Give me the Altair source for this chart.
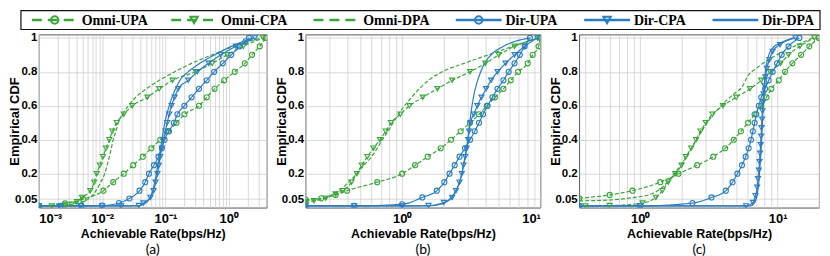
import altair as alt
import pandas as pd

SERIES = ["Omni-UPA", "Omni-CPA", "Omni-DPA", "Dir-UPA", "Dir-CPA", "Dir-DPA"]
GREEN = "#3aa63a"
BLUE = "#2a7dc1"
COLORS = [GREEN, GREEN, GREEN, BLUE, BLUE, BLUE]
DASHES = [[4, 2], [4, 2], [4, 2], [1, 0], [1, 0], [1, 0]]
WIDTHS = [1.2, 1.2, 1.2, 1.6, 1.6, 1.6]
MARK_SERIES = ["Omni-UPA", "Omni-CPA", "Dir-UPA", "Dir-CPA"]
MARK_SHAPES = ["circle", "triangle-down", "circle", "triangle-down"]
Y_TICKS = [0.05, 0.2, 0.4, 0.6, 0.8, 1]
SANS = "Liberation Sans"

# ---------------- panel (a) ----------------
a_omni_upa_x = [0.001, 0.0026, 0.005, 0.0105, 0.015, 0.022, 0.031, 0.044, 0.06, 0.083, 0.11, 0.15, 0.2, 0.34, 0.45, 0.6, 0.85, 1.25, 1.8, 2.35, 3.1, 3.9]
a_omni_upa_y = [0.01, 0.025, 0.05, 0.10, 0.15, 0.20, 0.25, 0.30, 0.35, 0.40, 0.45, 0.50, 0.55, 0.60, 0.65, 0.70, 0.75, 0.80, 0.85, 0.90, 0.95, 1.0]
a_omni_cpa_x = [0.001, 0.0016, 0.0026, 0.0033, 0.004, 0.0048, 0.0065, 0.0075, 0.0082, 0.0092, 0.0103, 0.0115, 0.013, 0.0145, 0.017, 0.022, 0.03, 0.052, 0.08, 0.13, 0.3, 0.55, 0.95, 1.7, 3.5]
a_omni_cpa_y = [0.01, 0.01, 0.015, 0.02, 0.035, 0.06, 0.10, 0.15, 0.20, 0.25, 0.30, 0.35, 0.40, 0.45, 0.50, 0.55, 0.60, 0.65, 0.70, 0.75, 0.80, 0.85, 0.90, 0.95, 1.0]
a_omni_dpa_x = [0.001, 0.002, 0.004, 0.006, 0.008, 0.0095, 0.011, 0.012, 0.013, 0.014, 0.015, 0.0165, 0.018, 0.021, 0.026, 0.034, 0.05, 0.08, 0.14, 0.26, 0.55, 1.2, 3.3]
a_omni_dpa_y = [0.01, 0.012, 0.025, 0.05, 0.10, 0.15, 0.20, 0.25, 0.30, 0.35, 0.40, 0.45, 0.50, 0.55, 0.60, 0.65, 0.70, 0.75, 0.80, 0.85, 0.90, 0.95, 1.0]
a_dir_upa_x = [0.001, 0.0022, 0.0047, 0.01, 0.0185, 0.027, 0.039, 0.048, 0.055, 0.066, 0.078, 0.088, 0.097, 0.114, 0.136, 0.155, 0.2, 0.26, 0.34, 0.45, 0.59, 0.81, 1.1, 1.5, 1.85, 2.1]
a_dir_upa_y = [0.01, 0.01, 0.01, 0.012, 0.027, 0.054, 0.10, 0.15, 0.20, 0.25, 0.30, 0.35, 0.40, 0.45, 0.50, 0.55, 0.60, 0.65, 0.70, 0.75, 0.80, 0.85, 0.90, 0.95, 0.98, 1.0]
a_dir_cpa_x = [0.001, 0.0021, 0.0046, 0.01, 0.02, 0.038, 0.045, 0.058, 0.065, 0.07, 0.075, 0.079, 0.083, 0.088, 0.093, 0.1, 0.107, 0.115, 0.125, 0.14, 0.16, 0.23, 0.32, 0.48, 0.75, 1.3, 2.6]
a_dir_cpa_y = [0.01, 0.01, 0.01, 0.01, 0.01, 0.012, 0.027, 0.06, 0.10, 0.15, 0.20, 0.25, 0.30, 0.35, 0.40, 0.45, 0.50, 0.55, 0.60, 0.65, 0.70, 0.75, 0.80, 0.85, 0.90, 0.95, 1.0]
a_dir_dpa_x = [0.001, 0.035, 0.045, 0.055, 0.063, 0.072, 0.08, 0.088, 0.098, 0.115, 0.145, 0.17, 0.23, 0.35, 0.6, 1.1, 2.4]
a_dir_dpa_y = [0.01, 0.01, 0.02, 0.05, 0.10, 0.20, 0.30, 0.40, 0.50, 0.60, 0.70, 0.75, 0.80, 0.85, 0.90, 0.95, 1.0]

# ---------------- panel (b) ----------------
b_omni_upa_x = [0.2, 0.26, 0.33, 0.4, 0.66, 1.0, 1.24, 1.53, 1.9, 2.26, 2.65, 3.1, 3.6, 4.1, 4.7, 5.4, 6.1, 6.9, 8.1, 8.8, 9.7, 10.0]
b_omni_upa_y = [0.048, 0.055, 0.075, 0.10, 0.15, 0.20, 0.25, 0.30, 0.35, 0.40, 0.45, 0.50, 0.55, 0.60, 0.65, 0.70, 0.75, 0.80, 0.85, 0.90, 0.95, 1.0]
b_omni_cpa_x = [0.2, 0.23, 0.28, 0.33, 0.37, 0.43, 0.47, 0.51, 0.56, 0.62, 0.69, 0.76, 0.83, 0.97, 1.13, 1.41, 1.8, 2.3, 3.1, 4.0, 5.0, 6.5, 9.8]
b_omni_cpa_y = [0.027, 0.04, 0.056, 0.08, 0.10, 0.15, 0.20, 0.25, 0.30, 0.35, 0.40, 0.45, 0.50, 0.55, 0.60, 0.65, 0.70, 0.75, 0.80, 0.85, 0.90, 0.95, 1.0]
b_omni_dpa_x = [0.2, 0.25, 0.3, 0.35, 0.41, 0.47, 0.53, 0.6, 0.66, 0.72, 0.79, 0.86, 0.94, 1.04, 1.17, 1.33, 1.55, 1.95, 2.8, 4.2, 6.3, 9.6]
b_omni_dpa_y = [0.04, 0.05, 0.07, 0.10, 0.15, 0.20, 0.25, 0.30, 0.35, 0.40, 0.45, 0.50, 0.55, 0.60, 0.65, 0.70, 0.75, 0.80, 0.85, 0.90, 0.95, 1.0]
b_dir_upa_x = [0.2, 0.45, 1.0, 1.4, 1.78, 2.02, 2.2, 2.4, 2.6, 2.85, 3.1, 3.35, 3.6, 3.85, 4.15, 4.5, 4.9, 5.4, 5.9, 6.5, 7.1, 7.7, 8.4]
b_dir_upa_y = [0.01, 0.01, 0.02, 0.06, 0.10, 0.15, 0.20, 0.25, 0.30, 0.35, 0.40, 0.45, 0.50, 0.55, 0.60, 0.65, 0.70, 0.75, 0.80, 0.85, 0.90, 0.95, 1.0]
b_dir_cpa_x = [0.2, 0.45, 1.0, 1.55, 2.0, 2.3, 2.45, 2.6, 2.7, 2.78, 2.86, 2.93, 3.0, 3.05, 3.12, 3.3, 3.5, 3.75, 4.05, 4.4, 4.9, 5.6, 6.5, 7.7, 9.5]
b_dir_cpa_y = [0.01, 0.01, 0.01, 0.012, 0.03, 0.06, 0.10, 0.15, 0.20, 0.25, 0.30, 0.35, 0.40, 0.45, 0.50, 0.55, 0.60, 0.65, 0.70, 0.75, 0.80, 0.85, 0.90, 0.95, 1.0]
b_dir_dpa_x = [0.2, 1.5, 1.9, 2.2, 2.45, 2.6, 2.7, 2.78, 2.85, 2.92, 2.98, 3.03, 3.08, 3.14, 3.2, 3.28, 3.38, 3.52, 3.7, 3.95, 4.4, 5.4, 8.5]
b_dir_dpa_y = [0.01, 0.01, 0.02, 0.05, 0.10, 0.15, 0.20, 0.25, 0.30, 0.35, 0.40, 0.45, 0.50, 0.55, 0.60, 0.65, 0.70, 0.75, 0.80, 0.85, 0.90, 0.95, 1.0]

# ---------------- panel (c) ----------------
c_omni_upa_x = [0.36, 0.6, 0.88, 1.4, 1.9, 2.6, 3.4, 4.15, 4.8, 5.4, 6.1, 6.8, 7.6, 8.3, 9.0, 10.2, 11.3, 12.8, 14.8, 17.0, 20.0]
c_omni_upa_y = [0.055, 0.075, 0.10, 0.15, 0.20, 0.25, 0.30, 0.35, 0.40, 0.45, 0.50, 0.55, 0.60, 0.65, 0.70, 0.75, 0.80, 0.85, 0.90, 0.95, 1.0]
c_omni_cpa_x = [0.4, 0.6, 1.04, 1.3, 1.45, 1.6, 1.8, 2.0, 2.15, 2.35, 2.55, 2.75, 3.0, 3.35, 4.0, 5.0, 6.3, 7.6, 8.8, 10.5, 12.0, 14.5, 18.5]
c_omni_cpa_y = [0.01, 0.012, 0.027, 0.06, 0.10, 0.15, 0.20, 0.25, 0.30, 0.35, 0.40, 0.45, 0.50, 0.55, 0.60, 0.65, 0.70, 0.75, 0.80, 0.85, 0.90, 0.95, 1.0]
c_omni_dpa_x = [0.36, 0.6, 0.9, 1.2, 1.45, 1.65, 1.85, 2.05, 2.25, 2.45, 2.65, 2.9, 3.2, 3.6, 4.1, 4.8, 5.6, 6.0, 7.0, 8.5, 11.0, 14.0, 18.0]
c_omni_dpa_y = [0.04, 0.045, 0.06, 0.08, 0.12, 0.17, 0.22, 0.27, 0.32, 0.37, 0.42, 0.47, 0.52, 0.57, 0.62, 0.67, 0.72, 0.77, 0.82, 0.87, 0.92, 0.96, 1.0]
c_dir_upa_x = [0.36, 1.0, 2.4, 3.3, 4.2, 4.7, 5.1, 5.5, 5.85, 6.15, 6.4, 6.6, 6.8, 7.0, 7.3, 7.6, 8.1, 8.6, 9.2, 9.9, 10.7, 12.0, 14.4]
c_dir_upa_y = [0.01, 0.01, 0.027, 0.06, 0.10, 0.15, 0.20, 0.25, 0.30, 0.35, 0.40, 0.45, 0.50, 0.55, 0.60, 0.65, 0.70, 0.75, 0.80, 0.85, 0.90, 0.95, 1.0]
c_dir_cpa_x = [0.36, 1.0, 5.9, 6.6, 6.9, 7.1, 7.2, 7.3, 7.38, 7.45, 7.52, 7.58, 7.63, 7.7, 7.75, 7.82, 7.9, 8.0, 8.15, 8.35, 8.7, 9.2, 10.4, 13.5]
c_dir_cpa_y = [0.01, 0.01, 0.01, 0.03, 0.07, 0.12, 0.17, 0.22, 0.27, 0.32, 0.37, 0.42, 0.47, 0.52, 0.57, 0.62, 0.67, 0.72, 0.77, 0.82, 0.87, 0.92, 0.96, 1.0]
c_dir_dpa_x = [0.36, 6.3, 6.8, 7.1, 7.3, 7.45, 7.6, 7.7, 7.8, 7.9, 8.0, 8.15, 8.5, 9.2, 10.5, 13.0]
c_dir_dpa_y = [0.01, 0.01, 0.03, 0.08, 0.15, 0.25, 0.35, 0.45, 0.55, 0.65, 0.72, 0.80, 0.88, 0.94, 0.97, 1.0]

PANELS = [
    {"label": "(a)", "domain": [0.001, 4], "decades": [-3, -2, -1, 0], "width": 229,
     "series": [(a_omni_upa_x, a_omni_upa_y), (a_omni_cpa_x, a_omni_cpa_y), (a_omni_dpa_x, a_omni_dpa_y),
                (a_dir_upa_x, a_dir_upa_y), (a_dir_cpa_x, a_dir_cpa_y), (a_dir_dpa_x, a_dir_dpa_y)]},
    {"label": "(b)", "domain": [0.2, 10], "decades": [-1, 0, 1], "width": 236,
     "series": [(b_omni_upa_x, b_omni_upa_y), (b_omni_cpa_x, b_omni_cpa_y), (b_omni_dpa_x, b_omni_dpa_y),
                (b_dir_upa_x, b_dir_upa_y), (b_dir_cpa_x, b_dir_cpa_y), (b_dir_dpa_x, b_dir_dpa_y)]},
    {"label": "(c)", "domain": [0.36, 20], "decades": [-1, 0, 1], "width": 241,
     "series": [(c_omni_upa_x, c_omni_upa_y), (c_omni_cpa_x, c_omni_cpa_y), (c_omni_dpa_x, c_omni_dpa_y),
                (c_dir_upa_x, c_dir_upa_y), (c_dir_cpa_x, c_dir_cpa_y), (c_dir_dpa_x, c_dir_dpa_y)]},
]

SUP = {"-3": "⁻³", "-2": "⁻²", "-1": "⁻¹", "0": "⁰", "1": "¹"}
PLOT_H = 174

color_enc = alt.Color("series:N", scale=alt.Scale(domain=SERIES, range=COLORS), legend=None)
dash_enc = alt.StrokeDash("series:N", scale=alt.Scale(domain=SERIES, range=DASHES), legend=None)
width_enc = alt.StrokeWidth("series:N", scale=alt.Scale(domain=SERIES, range=WIDTHS), legend=None)
shape_enc = alt.Shape("series:N", scale=alt.Scale(domain=MARK_SERIES, range=MARK_SHAPES), legend=None)


# ---------------- legend layout (drawn above panel (a), spanning all panels) ----------------
LEG_TEXT_W = [67, 70, 70, 56, 56, 54]   # approx label widths (px)
LEG_LINE = 46
LEG_GAP = 4
LEG_AFTER = 23
leg_rows = []
pos = -7
for name, tw in zip(SERIES, LEG_TEXT_W):
    leg_rows.append({"series": name, "x0": pos, "x1": pos + LEG_LINE,
                     "xm": pos + LEG_LINE / 2, "xt": pos + LEG_LINE + LEG_GAP})
    pos += LEG_LINE + LEG_GAP + tw + LEG_AFTER
leg = pd.DataFrame(leg_rows)
frame = pd.DataFrame({"f0": [-18], "f1": [785]})


def legend_layer(panel_w):
    lx = alt.Scale(domain=[0, panel_w], range=[0, panel_w])
    yc = -14.5
    box = alt.Chart(frame).mark_rect(fill="white", stroke="#111", strokeWidth=1.2).encode(
        x=alt.X("f0:Q", scale=lx, axis=None), x2="f1:Q",
        y=alt.value(-24), y2=alt.value(-5))
    omni = leg[leg.series.str.startswith("Omni")]
    dirs = leg[leg.series.str.startswith("Dir")]
    r1 = alt.Chart(omni).mark_rule(strokeWidth=2.4, strokeDash=[10, 6]).encode(
        x=alt.X("x0:Q", scale=lx, axis=None), x2="x1:Q", y=alt.value(yc), color=color_enc)
    r2 = alt.Chart(dirs).mark_rule(strokeWidth=2.4).encode(
        x=alt.X("x0:Q", scale=lx, axis=None), x2="x1:Q", y=alt.value(yc), color=color_enc)
    pts = alt.Chart(leg[leg.series.isin(MARK_SERIES)]).mark_point(
        filled=False, size=55, strokeWidth=2, opacity=1).encode(
        x=alt.X("xm:Q", scale=lx, axis=None), y=alt.value(yc),
        color=color_enc, shape=shape_enc)
    txt = alt.Chart(leg).mark_text(align="left", baseline="middle", font="Liberation Serif",
                                   fontWeight="bold", fontSize=14, color="black").encode(
        x=alt.X("xt:Q", scale=lx, axis=None), y=alt.value(yc + 0.5), text="series:N")
    return alt.layer(box, r1, r2, pts, txt)


def make_panel(p, with_legend=False):
    rows = []
    for name, (xs, ys) in zip(SERIES, p["series"]):
        for k, (xv, yv) in enumerate(zip(xs, ys)):
            rows.append({"series": name, "x": xv, "cdf": yv, "k": k})
    df = pd.DataFrame(rows)
    lo, hi = p["domain"]
    vals = []
    for e in range(-3, 2):
        for m in range(1, 10):
            v = 10.0 ** e if m == 1 else m * 10.0 ** e
            if lo * 0.999 <= v <= hi * 1.001:
                vals.append(v)
    expr = "''"
    for e in p["decades"]:
        expr = f"datum.value == {10.0 ** e!r} ? '10{SUP[str(e)]}' : (" + expr + ")"
    x = alt.X("x:Q", scale=alt.Scale(type="log", domain=p["domain"]),
              axis=alt.Axis(values=vals, labelExpr=expr, title="Achievable Rate(bps/Hz)",
                            labelPadding=5, titlePadding=2, labelFontSize=13, titleFontSize=12.5))
    y = alt.Y("cdf:Q", scale=alt.Scale(domain=[0, 1.02]),
              axis=alt.Axis(values=Y_TICKS, format="~g", title="Empirical CDF",
                            labelPadding=2, labelFontSize=11.5, titleFontSize=13,
                            titleX=-24, titleBaseline="middle"))
    lines = alt.Chart(df).mark_line(interpolate="monotone", clip=True).encode(
        x=x, y=y, color=color_enc, strokeDash=dash_enc, strokeWidth=width_enc,
        detail="series:N", order="k:Q")
    pts = alt.Chart(df[df.series.isin(MARK_SERIES)]).mark_point(
        filled=False, size=26, strokeWidth=1.1, clip=True, opacity=1).encode(
        x=x, y=y, color=color_enc, shape=shape_enc)
    body = alt.layer(lines, pts)
    if with_legend:
        body = alt.layer(body, legend_layer(p["width"])).resolve_scale(x="independent")
    return body.properties(
        width=p["width"], height=PLOT_H,
        title=alt.TitleParams(p["label"], orient="bottom", fontSize=14, fontWeight="normal",
                              font="Lato", offset=3))


panels = [make_panel(p, i == 0) for i, p in enumerate(PANELS)]

chart = alt.hconcat(*panels, spacing=39, bounds="flush").properties(
    padding={"left": 0, "top": 0, "right": 0, "bottom": 0}
).configure_view(stroke="#444", strokeWidth=0.9).configure_axis(
    grid=True, gridColor="#cfcfcf", gridWidth=0.8, domain=False, ticks=False,
    labelFont=SANS, labelFontWeight="bold", labelColor="black",
    titleFont=SANS, titleFontWeight="bold", titleColor="black"
)

chart.save("out.html", embed_options={"renderer": "svg", "actions": False})
